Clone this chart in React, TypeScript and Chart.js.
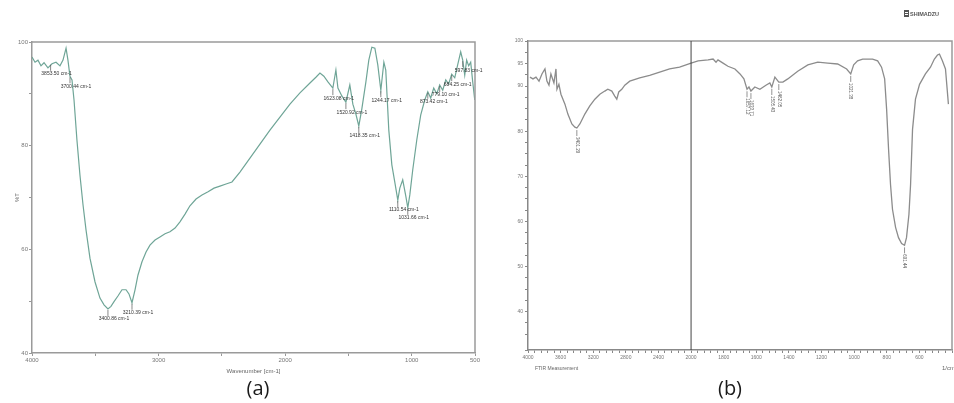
import React, { useEffect, useRef } from "react";
import { Chart, registerables } from "chart.js";
Chart.register(...registerables);

// ---------- Panel (a) data ----------
const aWavenumbers = [4000,3976,3953,3929,3905,3874,3842,3810,3779,3755,3731,3716,3700,3684,3668,3645,3621,3597,3573,3542,3502,3463,3431,3400,3376,3352,3321,3289,3257,3234,3210,3186,3163,3131,3099,3068,3028,2989,2949,2910,2870,2831,2791,2752,2704,2657,2609,2562,2515,2467,2420,2357,2278,2199,2120,2041,1962,1883,1804,1757,1725,1694,1662,1623,1599,1583,1552,1520,1489,1465,1441,1418,1394,1362,1339,1315,1291,1268,1244,1220,1205,1181,1157,1134,1110,1094,1071,1047,1031,1015,992,960,929,897,873,850,826,802,779,755,731,708,684,660,637,613,597,581,566,550,534,518,502];
const aTransmittance = [97.1,96.1,96.5,95.4,96.0,95.0,95.8,96.1,95.4,96.5,98.8,96.5,93.4,92.7,88.8,81.1,74.3,68.6,63.7,58.3,53.7,50.6,49.3,48.5,49.0,49.9,51.0,52.2,52.2,51.4,49.7,52.2,55.0,57.6,59.5,60.8,61.8,62.4,63.0,63.4,64.1,65.3,66.8,68.4,69.7,70.5,71.1,71.8,72.2,72.6,73.0,74.9,77.6,80.3,83.0,85.5,88.0,90.2,92.1,93.2,94.0,93.4,92.3,91.1,94.6,91.1,89.6,88.4,91.7,88.0,86.1,83.8,87.1,92.3,96.5,99.0,98.8,95.6,90.7,96.1,94.6,83.0,76.3,73.0,69.5,71.8,73.4,70.3,68.0,70.5,75.3,81.1,85.9,88.8,90.4,89.2,91.1,90.0,91.7,90.7,92.7,91.9,93.8,93.1,95.6,98.1,96.5,93.6,96.5,95.4,96.1,92.3,88.8];
const aPeakWavenumbers = [3853, 3700, 3400, 3210, 1623, 1520, 1418, 1244, 1110, 1031, 873, 779, 684, 597];
const aPeakLabels = ["3853.50 cm-1","3700.44 cm-1","3400.86 cm-1","3210.39 cm-1","1623.08 cm-1","1520.92 cm-1","1418.35 cm-1","1244.17 cm-1","1110.54 cm-1","1031.66 cm-1","873.42 cm-1","779.10 cm-1","684.25 cm-1","597.83 cm-1"];
const aXLabelValues = [4000, 3000, 2000, 1000, 500];
const aYLabelValues = [40, 60, 80, 100];

// ---------- Panel (b) data ----------
const bWavenumbers = [3976,3939,3902,3865,3829,3792,3768,3743,3719,3682,3657,3645,3621,3596,3547,3511,3462,3425,3401,3364,3303,3242,3180,3119,3058,3021,2972,2936,2911,2887,2850,2813,2752,2630,2508,2385,2263,2141,2000,1957,1896,1865,1847,1835,1804,1774,1731,1700,1676,1657,1645,1633,1609,1578,1541,1517,1505,1486,1462,1437,1407,1346,1284,1223,1162,1101,1046,1021,1003,979,948,887,856,832,813,801,789,777,765,746,728,709,691,679,664,654,642,624,599,563,532,508,489,477,459,440,422];
const bTransmittance = [92.0,91.6,92.0,91.1,92.7,93.8,91.1,90.2,92.7,90.7,93.8,89.3,90.4,88.2,86.0,83.8,81.6,80.9,80.7,81.6,83.8,85.6,87.1,88.2,88.9,89.3,88.9,87.8,87.1,88.7,89.3,90.2,91.1,91.8,92.4,93.1,93.8,94.2,95.1,95.6,95.8,96.0,95.3,95.8,95.1,94.4,93.8,92.7,91.6,89.3,89.8,88.9,89.8,89.3,90.2,90.7,89.8,92.0,90.9,90.9,91.6,93.3,94.7,95.3,95.1,94.9,93.8,92.7,94.7,95.6,96.0,96.0,95.6,94.2,91.6,84.9,76.0,68.2,62.7,58.7,56.4,55.1,54.7,56.4,61.6,68.2,80.4,87.1,90.4,92.7,94.2,96.0,96.9,97.1,95.6,93.8,86.0];
const bPeakWavenumbers = [3401, 1657, 1633, 1505, 1462, 1021, 691];
const bPeakLabels = ["3401.29", "1657.12", "1633.71", "1505.43", "1462.05", "1021.38", "691.44"];
const bBreakWavenumber = 2000;

// scale-change axis (4000-2000 compressed, 2000-400 expanded)
const toU = (wn: number) => (wn >= 2000 ? (4000 - wn) / 400 : 5 + (2000 - wn) / 200);
const fromU = (u: number) => (u <= 5 ? 4000 - 400 * u : 2000 - 200 * (u - 5));

function nearestY(wns: number[], ts: number[], wn: number) {
  let best = 0;
  for (let i = 1; i < wns.length; i++) if (Math.abs(wns[i] - wn) < Math.abs(wns[best] - wn)) best = i;
  return ts[best];
}

const tickFont = { size: 6, family: "'Liberation Sans', Arial, sans-serif" };

export default function App() {
  const refA = useRef<HTMLCanvasElement>(null);
  const refB = useRef<HTMLCanvasElement>(null);

  useEffect(() => {
    const annA = {
      id: "annA",
      afterDatasetsDraw(chart: any) {
        const { ctx, chartArea, scales } = chart;
        ctx.save();
        ctx.strokeStyle = "#9a9a9a";
        ctx.lineWidth = 1.5;
        ctx.beginPath();
        ctx.moveTo(chartArea.left, chartArea.top);
        ctx.lineTo(chartArea.right, chartArea.top);
        ctx.lineTo(chartArea.right, chartArea.bottom);
        ctx.stroke();
        ctx.font = "5px 'Liberation Sans', Arial, sans-serif";
        ctx.fillStyle = "#333";
        ctx.strokeStyle = "#555";
        ctx.lineWidth = 0.7;
        ctx.textAlign = "center";
        ctx.textBaseline = "middle";
        aPeakWavenumbers.forEach((wn, i) => {
          const px = scales.x.getPixelForValue(wn);
          const py = scales.y.getPixelForValue(nearestY(aWavenumbers, aTransmittance, wn));
          ctx.beginPath();
          ctx.moveTo(px, py + 1);
          ctx.lineTo(px, py + 7);
          ctx.stroke();
          ctx.fillText(aPeakLabels[i], px + 6, py + 10);
        });
        ctx.fillStyle = "#666";
        ctx.font = "6px 'Liberation Sans', Arial, sans-serif";
        ctx.fillText("Wavenumber [cm-1]", (chartArea.left + chartArea.right) / 2, 371);
        ctx.save();
        ctx.translate(17, (chartArea.top + chartArea.bottom) / 2);
        ctx.rotate(-Math.PI / 2);
        ctx.fillText("%T", 0, 0);
        ctx.restore();
        ctx.fillStyle = "#1a1a1a";
        ctx.font = "20px 'Open Sans', sans-serif";
        ctx.fillText("(a)", 258, 389);
        ctx.restore();
      },
    };

    const annB = {
      id: "annB",
      afterDatasetsDraw(chart: any) {
        const { ctx, chartArea, scales } = chart;
        ctx.save();
        ctx.strokeStyle = "#9a9a9a";
        ctx.lineWidth = 1.5;
        ctx.beginPath();
        ctx.moveTo(chartArea.left, chartArea.top);
        ctx.lineTo(chartArea.right, chartArea.top);
        ctx.lineTo(chartArea.right, chartArea.bottom);
        ctx.stroke();
        const bx = scales.x.getPixelForValue(toU(bBreakWavenumber));
        ctx.strokeStyle = "#444";
        ctx.lineWidth = 1;
        ctx.beginPath();
        ctx.moveTo(bx, chartArea.top);
        ctx.lineTo(bx, chartArea.bottom);
        ctx.stroke();
        ctx.font = "4.5px 'Liberation Sans', Arial, sans-serif";
        ctx.fillStyle = "#555";
        ctx.strokeStyle = "#666";
        ctx.lineWidth = 0.7;
        bPeakWavenumbers.forEach((wn, i) => {
          const px = scales.x.getPixelForValue(toU(wn));
          const py = scales.y.getPixelForValue(nearestY(bWavenumbers, bTransmittance, wn));
          ctx.beginPath();
          ctx.moveTo(px, py + 2);
          ctx.lineTo(px, py + 8);
          ctx.stroke();
          ctx.save();
          ctx.translate(px, py + 9);
          ctx.rotate(Math.PI / 2);
          ctx.textAlign = "left";
          ctx.textBaseline = "middle";
          ctx.fillText(bPeakLabels[i], 0, 0);
          ctx.restore();
        });
        ctx.fillStyle = "#666";
        ctx.font = "5px 'Liberation Sans', Arial, sans-serif";
        ctx.textAlign = "left";
        ctx.textBaseline = "middle";
        ctx.fillText("FTIR Measurement", 45, 369);
        ctx.textAlign = "right";
        ctx.font = "6px 'Liberation Sans', Arial, sans-serif";
        ctx.fillText("1/cm", 465, 368);
        // maker mark
        ctx.fillStyle = "#555";
        ctx.fillRect(414, 10, 5, 7);
        ctx.fillStyle = "#fff";
        ctx.fillRect(415, 12, 3, 1);
        ctx.fillRect(415, 14, 3, 1);
        ctx.fillStyle = "#555";
        ctx.font = "bold 5.5px 'Liberation Sans', Arial, sans-serif";
        ctx.textAlign = "left";
        ctx.fillText("SHIMADZU", 420, 14);
        ctx.fillStyle = "#1a1a1a";
        ctx.font = "20px 'Open Sans', sans-serif";
        ctx.textAlign = "center";
        ctx.fillText("(b)", 240, 389);
        ctx.restore();
      },
    };

    const chartA = new Chart(refA.current!, {
      type: "line",
      data: {
        datasets: [
          {
            data: aWavenumbers.map((w, i) => ({ x: w, y: aTransmittance[i] })),
            borderColor: "#6fa597",
            borderWidth: 1.2,
            pointRadius: 0,
            tension: 0,
          },
        ],
      },
      options: {
        animation: false,
        responsive: false,
        maintainAspectRatio: false,
        layout: { padding: { top: 42, right: 15, left: 0, bottom: 0 } },
        plugins: { legend: { display: false }, tooltip: { enabled: false } },
        scales: {
          x: {
            type: "linear",
            reverse: true,
            min: 500,
            max: 4000,
            afterFit: (s: any) => { s.height = 50; },
            grid: { display: true, drawOnChartArea: false, tickLength: 3, color: "#999" },
            border: { display: true, color: "#9a9a9a", width: 1.5 },
            ticks: {
              stepSize: 500,
              autoSkip: false,
              maxRotation: 0,
              font: tickFont,
              color: "#777",
              padding: 1,
              callback: (v: any) => (aXLabelValues.includes(v) ? String(v) : ""),
            },
          },
          y: {
            min: 40,
            max: 100,
            afterFit: (s: any) => { s.width = 32; },
            grid: { display: true, drawOnChartArea: false, tickLength: 3, color: "#999" },
            border: { display: true, color: "#9a9a9a", width: 1.5 },
            ticks: {
              stepSize: 10,
              font: tickFont,
              color: "#777",
              padding: 1,
              callback: (v: any) => (aYLabelValues.includes(v) ? String(v) : ""),
            },
          },
        },
      },
      plugins: [annA],
    });

    const chartB = new Chart(refB.current!, {
      type: "line",
      data: {
        datasets: [
          {
            data: bWavenumbers.map((w, i) => ({ x: toU(w), y: bTransmittance[i] })),
            borderColor: "#8c8c8c",
            borderWidth: 1.3,
            pointRadius: 0,
            tension: 0,
          },
        ],
      },
      options: {
        animation: false,
        responsive: false,
        maintainAspectRatio: false,
        layout: { padding: { top: 41, right: 2, left: 0, bottom: 0 } },
        plugins: { legend: { display: false }, tooltip: { enabled: false } },
        scales: {
          x: {
            type: "linear",
            min: 0,
            max: 13,
            afterFit: (s: any) => { s.height = 53; },
            grid: { display: true, drawOnChartArea: false, tickLength: 3, color: "#888" },
            border: { display: true, color: "#888", width: 1.5 },
            ticks: {
              stepSize: 0.2,
              autoSkip: false,
              maxRotation: 0,
              font: { size: 5, family: tickFont.family },
              color: "#777",
              padding: 2,
              callback: (v: any) => {
                const r = Math.round(v);
                if (Math.abs(v - r) > 1e-6 || r >= 13) return "";
                return String(fromU(r));
              },
            },
          },
          y: {
            min: 31.5,
            max: 100,
            afterFit: (s: any) => { s.width = 38; },
            grid: { display: true, drawOnChartArea: false, tickLength: 3, color: "#888" },
            border: { display: true, color: "#888", width: 1.5 },
            ticks: {
              stepSize: 2.5,
              font: { size: 5, family: tickFont.family },
              color: "#777",
              padding: 2,
              callback: (v: any) => (v % 10 === 0 || v === 95 ? String(v) : ""),
            },
          },
        },
      },
      plugins: [annB],
    });

    return () => {
      chartA.destroy();
      chartB.destroy();
    };
  }, []);

  return (
    <div style={{ position: "absolute", left: 0, top: 0, width: 954, height: 403, background: "#fff", overflow: "hidden" }}>
      <canvas ref={refA} width={490} height={403} style={{ position: "absolute", left: 0, top: 0, width: 490, height: 403 }} />
      <canvas ref={refB} width={464} height={403} style={{ position: "absolute", left: 490, top: 0, width: 464, height: 403 }} />
    </div>
  );
}
